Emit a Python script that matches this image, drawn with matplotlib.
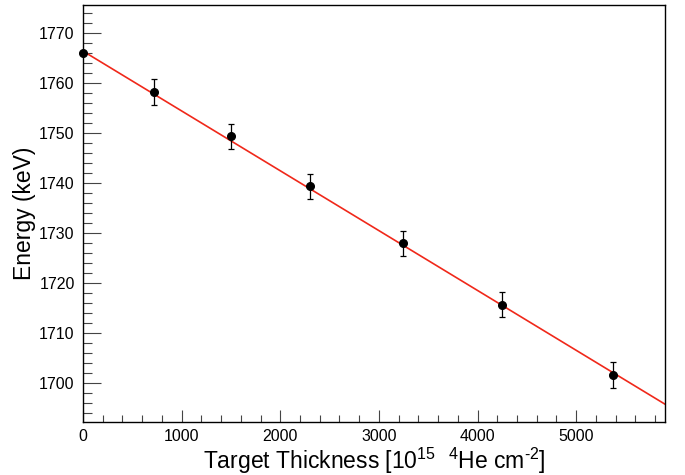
import numpy as np
import matplotlib.pyplot as plt
from matplotlib.ticker import MultipleLocator

plt.rcParams['font.family'] = ['Liberation Sans', 'DejaVu Sans']
plt.rcParams['mathtext.fontset'] = 'custom'
plt.rcParams['mathtext.rm'] = 'Liberation Sans'

# measured energies vs. target thickness
thickness = [0, 720, 1500, 2300, 3245, 4245, 5375]
energy = [1766.0, 1758.1, 1749.3, 1739.3, 1728.0, 1715.7, 1701.7]
energy_err = [0.0, 2.55, 2.55, 2.5, 2.5, 2.5, 2.55]

# linear fit result
fit_intercept = 1766.3
fit_slope = -0.01194
fit_range = (0, 5900)

fig = plt.figure(figsize=(6.85, 4.75), dpi=100)
ax = fig.add_axes([83 / 685, 1 - 422 / 475, 582 / 685, 417 / 475])

xf = np.array(fit_range)
ax.plot(xf, fit_intercept + fit_slope * xf, color='#f0281a', lw=1.2, zorder=2)

ax.errorbar(thickness, energy, yerr=energy_err, fmt='o', color='black',
            ms=5.5, elinewidth=0.9, capsize=2.2, capthick=0.9, zorder=3,
            clip_on=False)

ax.set_xlim(0, 5900)
ax.set_ylim(1692.3, 1775.5)

ax.xaxis.set_major_locator(MultipleLocator(1000))
ax.xaxis.set_minor_locator(MultipleLocator(200))
ax.yaxis.set_major_locator(MultipleLocator(10))
ax.yaxis.set_minor_locator(MultipleLocator(2))

ax.tick_params(axis='x', which='major', direction='in', length=9, width=0.8,
               color='#444444', labelsize=11.5, pad=5)
ax.tick_params(axis='x', which='minor', direction='in', length=5, width=0.8,
               color='#444444')
ax.tick_params(axis='y', which='major', direction='in', length=13, width=0.8,
               color='#444444', labelsize=11.5, pad=6)
ax.tick_params(axis='y', which='minor', direction='in', length=6.5, width=0.8,
               color='#444444')
for s in ax.spines.values():
    s.set_linewidth(1.0)

ax.set_xlabel('Target Thickness [10$^{15}$  $^{4}$He cm$^{\u2010 2}$]', fontsize=16.5,
              labelpad=1)
ax.set_ylabel('Energy (keV)', fontsize=16.5, labelpad=2)

fig.savefig('out.png', dpi=100)
